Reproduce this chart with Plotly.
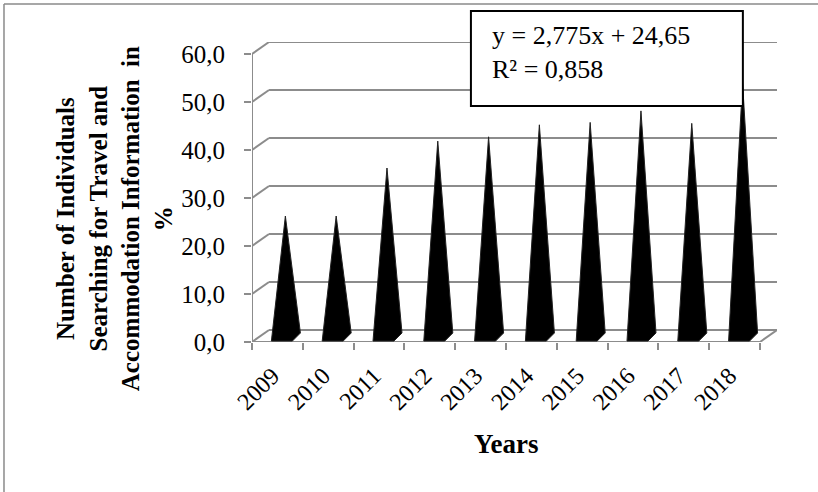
import plotly.graph_objects as go

# ---- data ----
years = ["2009", "2010", "2011", "2012", "2013", "2014", "2015", "2016", "2017", "2018"]
values = [25.0, 25.0, 35.0, 40.6, 41.5, 44.0, 44.5, 46.9, 44.3, 52.8]
y_ticks = [0, 10, 20, 30, 40, 50, 60]
y_ticktext = ["0,0", "10,0", "20,0", "30,0", "40,0", "50,0", "60,0"]
equation = "y = 2,775x + 24,65<br>R² = 0,858"
y_title = "Number of Individuals<br>Searching for Travel and<br>Accommodation Information\u00a0 in<br>%"
x_title = "Years"

# ---- styling / geometry ----
FONT = "Liberation Serif, Times New Roman, serif"
GRID = "#8c8c8c"
DX, DY = 0.335, 2.5          # 3-D depth offset (x units, y units)
XMIN, XMAX = -0.5, len(years) - 0.5

fig = go.Figure()

# cones
for i, v in enumerate(values):
    xs = [i - 0.118, i + 0.157, i + 0.453, i + 0.295, i - 0.118]
    ys = [0.2, v + DY / 2, 1.875, 0.2, 0.2]
    fig.add_trace(go.Scatter(x=xs, y=ys, mode="lines", fill="toself",
                             fillcolor="black", line=dict(color="#222", width=1),
                             hoverinfo="skip", showlegend=False))

shapes = []
# back-wall gridlines with depth slant
for t in y_ticks:
    shapes.append(dict(type="line", xref="x", yref="y", x0=XMIN, y0=t, x1=XMIN + DX, y1=t + DY,
                       line=dict(color=GRID, width=2), layer="below"))
    shapes.append(dict(type="line", xref="x", yref="y", x0=XMIN + DX, y0=t + DY, x1=XMAX + DX, y1=t + DY,
                       line=dict(color=GRID, width=2), layer="below"))
# front axis lines and floor
shapes.append(dict(type="line", xref="x", yref="y", x0=XMIN, y0=0, x1=XMIN, y1=max(y_ticks),
                   line=dict(color=GRID, width=2), layer="below"))
shapes.append(dict(type="line", xref="x", yref="y", x0=XMIN, y0=0, x1=XMAX, y1=0,
                   line=dict(color=GRID, width=2), layer="below"))
shapes.append(dict(type="line", xref="x", yref="y", x0=XMAX, y0=0, x1=XMAX + DX, y1=DY,
                   line=dict(color=GRID, width=2), layer="below"))
# equation box
shapes.append(dict(type="rect", xref="paper", yref="paper", x0=0.417, y0=0.787, x1=0.935, y1=1.103,
                   line=dict(color="black", width=2), fillcolor="white", layer="above"))
# outer chart frame (left and top edges visible)
shapes.append(dict(type="line", xref="paper", yref="paper", x0=-0.4724, y0=-0.7, x1=-0.4724, y1=1.1267,
                   line=dict(color="#8a8a8a", width=1.5), layer="below"))
shapes.append(dict(type="line", xref="paper", yref="paper", x0=-0.4724, y0=1.1267, x1=1.2, y1=1.1267,
                   line=dict(color="#8a8a8a", width=1.5), layer="below"))
# blank strip at the right edge
shapes.append(dict(type="rect", xref="paper", yref="paper", x0=1.05, y0=-0.7, x1=1.2, y1=1.12,
                   line=dict(width=0), fillcolor="white", layer="above"))

annotations = [
    dict(text=equation, xref="paper", yref="paper", x=0.453, y=1.077, xanchor="left", yanchor="top",
         align="left", showarrow=False, font=dict(family=FONT, size=26, color="black")),
    dict(text="<b>" + y_title.replace("<br>", "</b><br><b>") + "</b>", xref="paper", yref="paper",
         x=-0.2625, y=0.41, xanchor="center", yanchor="middle", textangle=-90,
         showarrow=False, font=dict(family=FONT, size=25, color="black")),
    dict(text="<b>" + x_title + "</b>", xref="paper", yref="paper", x=0.4838, y=-0.34,
         xanchor="center", yanchor="middle", showarrow=False,
         font=dict(family=FONT, size=27, color="black")),
]

fig.update_layout(
    width=818, height=492, autosize=False,
    margin=dict(l=252, r=41, t=42, b=150),
    paper_bgcolor="white", plot_bgcolor="white",
    shapes=shapes, annotations=annotations,
    xaxis=dict(range=[XMIN, XMAX + DX], tickmode="array", tickvals=list(range(len(years))),
               ticktext=years, tickangle=-45, ticks="", showgrid=False, zeroline=False,
               showline=False, tickfont=dict(family=FONT, size=24, color="black"),
               ticklabelstandoff=14, ticklabelshift=-5,
               minor=dict(tickmode="array", tickvals=[k - 0.5 for k in range(len(years) + 1)],
                          ticks="outside", ticklen=7, tickwidth=2, tickcolor=GRID, showgrid=False),
               fixedrange=True),
    yaxis=dict(range=[0, max(y_ticks) + DY], tickmode="array", tickvals=y_ticks, ticktext=y_ticktext,
               ticks="outside", ticklen=7, tickwidth=2, tickcolor=GRID, showgrid=False,
               zeroline=False, showline=False, ticklabelstandoff=14,
               tickfont=dict(family=FONT, size=25, color="black"), fixedrange=True),
)

fig.write_html("out.html")
